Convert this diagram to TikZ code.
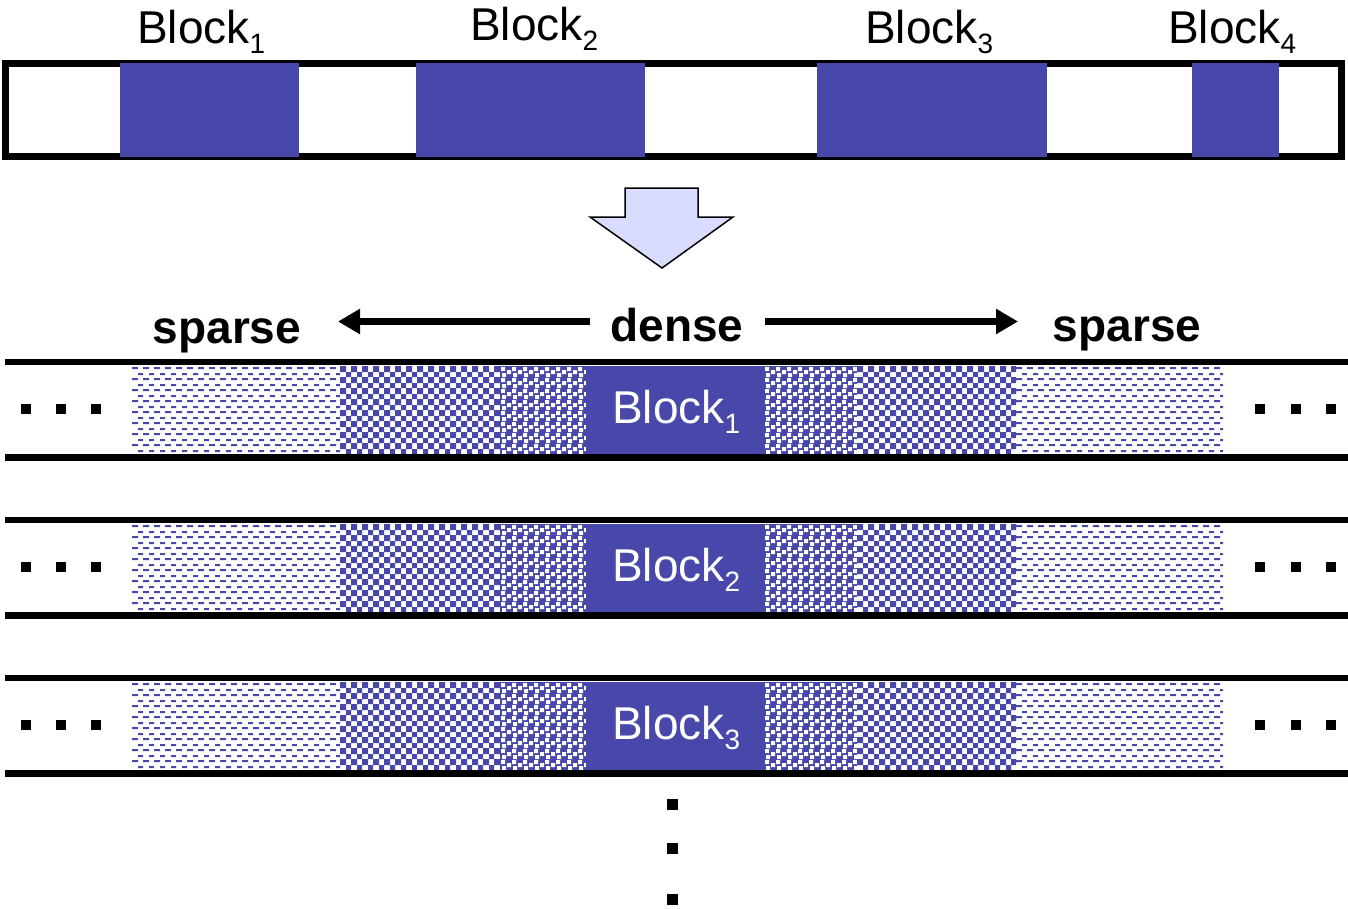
\documentclass[tikz,border=0pt]{standalone}
\usepackage{fontspec}
\setmainfont{Liberation Sans}
\usetikzlibrary{arrows.meta}
\definecolor{bb}{RGB}{72,72,170}
\definecolor{arrowfill}{RGB}{217,219,255}
\newcommand\blklabel[1]{Block\raisebox{-10pt}{\fontsize{28}{28}\selectfont #1}}
\tikzset{
  lbl/.style={inner sep=0pt, anchor=base west, font=\fontsize{46}{50}\selectfont},
  boldlbl/.style={inner sep=0pt, anchor=base, font=\fontsize{46}{50}\selectfont\bfseries},
  blkfill/.style={fill=bb},
  rowline/.style={line width=6.5pt},
  dotsq/.style={fill=black},
  dirarrow/.style={line width=6.5pt, -{Triangle[length=22pt,width=24pt]}},
  bigarrow/.style={fill=arrowfill, draw=black, line width=1.5pt, line join=miter},
  patbox/.style={inner sep=0pt, outer sep=0pt, anchor=north west},
}
% pattern regions, local coords: x in px, y downward, region height 88
\newcommand\sparsereg[2]{%
  \begin{scope}
    \clip (#1,0) rectangle (#2,88);
    \fill[bb] \foreach \r in {0,...,7}{\foreach \c in {0,...,19}{
      ({#1+\c*11},{1+\r*11}) rectangle ++(6,2)
      ({#1+\c*11+6},{7+\r*11}) rectangle ++(5,2)}};
  \end{scope}}
\newcommand\checkreg[2]{%
  \begin{scope}
    \clip (#1,0) rectangle (#2,88);
    \fill[bb] \foreach \r in {0,...,7}{\foreach \c in {0,...,15}{
      ({#1+\c*11},{\r*11}) rectangle ++(6,6)
      ({#1+\c*11+6},{\r*11+6}) rectangle ++(5,5)}};
  \end{scope}}
\newcommand\confettireg[2]{%
  \begin{scope}
    \clip (#1,0) rectangle (#2,88);
    \fill[bb] (#1,0) rectangle (#2,88);
    \fill[white] \foreach \r in {0,...,7}{\foreach \c in {0,...,8}{
      ({#1+\c*11+1},{\r*11+1}) rectangle ++(4,4)
      ({#1+\c*11+7},{\r*11+4}) rectangle ++(4,4)
      ({#1+\c*11+2},{\r*11+7}) rectangle ++(4,4)}};
  \end{scope}}
\newsavebox\rowpat
\sbox\rowpat{\begin{tikzpicture}[x=1pt,y=-1pt]
  \useasboundingbox (0,0) rectangle (1091,88);
  \sparsereg{0}{208}
  \checkreg{208}{368}
  \confettireg{368}{454}
  \fill[bb] (454,0) rectangle (632,88);
  \confettireg{632}{725}
  \checkreg{725}{884}
  \sparsereg{884}{1091}
\end{tikzpicture}}
\begin{document}
\begin{tikzpicture}[x=1pt,y=-1pt]
\useasboundingbox (0,0) rectangle (1348,908);
% top bar
\draw[line width=7pt] (5.5,63) rectangle (1341.5,156.5);
\fill[blkfill] (120,63) rectangle (299,157);
\fill[blkfill] (416,63) rectangle (645,157);
\fill[blkfill] (817,63) rectangle (1047,157);
\fill[blkfill] (1192,63) rectangle (1279,157);
\node[lbl] (top1) at (137,43) {\blklabel{1}};
\node[lbl] (top2) at (470,40) {\blklabel{2}};
\node[lbl] (top3) at (865,43) {\blklabel{3}};
\node[lbl] (top4) at (1168,43) {\blklabel{4}};
% big arrow
\draw[bigarrow] (625,188) -- (698,188) -- (698,217) -- (733,217) -- (662,268) -- (590,217) -- (625,217) -- cycle;
% direction labels
\node[boldlbl] (sparseL) at (227,343) {sparse};
\node[boldlbl] (dense) at (677,341) {dense};
\node[boldlbl] (sparseR) at (1127,341) {sparse};
\coordinate (la) at (590,321.5);
\coordinate (lt) at (338,321.5);
\coordinate (ra) at (765,321.5);
\coordinate (rt) at (1018,321.5);
\draw[dirarrow] (la) -- (lt);
\draw[dirarrow] (ra) -- (rt);
% rows
\foreach \yy/\n in {362/1,520/2,678/3}{
  \node[patbox] (pat\n) at (132,\yy+4) {\usebox\rowpat};
  \draw[rowline] (5,\yy) -- (1348,\yy);
  \draw[rowline] (5,\yy+95.5) -- (1348,\yy+95.5);
  \node[lbl, text=white] (rowlab\n) at (612,\yy+61) {\blklabel{\n}};
  \foreach \xx in {21,56,91,1255,1291,1326}{
    \fill[dotsq] (\xx,\yy+42) rectangle ++(10,10);
  }
}
% vertical dots
\fill[dotsq] (666.5,799) rectangle (677.5,810);
\fill[dotsq] (666.5,842.5) rectangle (677.5,853.5);
\fill[dotsq] (666.5,894) rectangle (677.5,905);
\end{tikzpicture}
\end{document}
